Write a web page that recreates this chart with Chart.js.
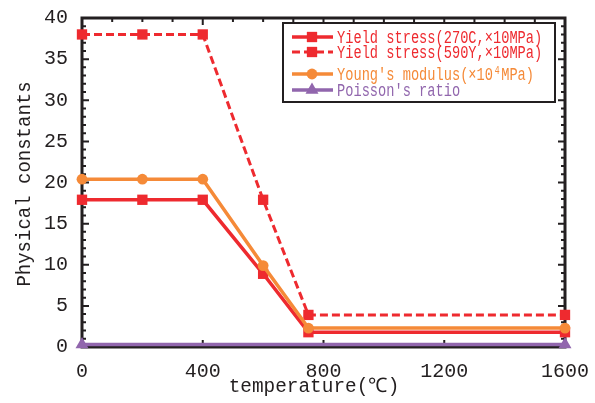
<!DOCTYPE html>
<html><head><meta charset="utf-8">
<script src="https://cdn.jsdelivr.net/npm/chart.js@4/dist/chart.umd.min.js"></script>
<style>html,body{margin:0;padding:0;background:#fff}#wrap{width:595px;height:403px}</style>
</head><body><div id="wrap"><canvas id="c" width="595" height="403"></canvas></div>
<script>
// ---- data ----
const temperatures = [0, 200, 400, 600, 750, 1600];
const yield270C = [17.9, 17.9, 17.9, 8.9, 1.8, 1.8];
const yield590Y = [38.0, 38.0, 38.0, 17.9, 3.9, 3.9];
const youngsModulus = [20.4, 20.4, 20.4, 9.9, 2.3, 2.3];
const poissonTemps = [0, 1600];
const poissonRatio = [0.3, 0.3];
const xTickValues = [0, 400, 800, 1200, 1600];
const yTickValues = [0, 5, 10, 15, 20, 25, 30, 35, 40];
const seriesLabels = ["Yield stress(270C,×10MPa)", "Yield stress(590Y,×10MPa)", "Young's modulus(×10⁴MPa)", "Poisson's ratio"];
const xTitle = "temperature(℃)";
const yTitle = "Physical constants";

const RED = '#ee2a2f', ORANGE = '#f58a38', PURPLE = '#9166ad', AXIS = '#231f20';
const pts = (xs, ys) => xs.map((x, i) => ({x, y: ys[i]}));

function drawMarker(ctx, style, r, x, y, color) {
  ctx.save(); ctx.fillStyle = color; ctx.beginPath();
  if (style === 'rect') { const s = Math.SQRT1_2 * r; ctx.rect(x - s, y - s, 2 * s, 2 * s); }
  else if (style === 'circle') { ctx.arc(x, y, r, 0, Math.PI * 2); }
  else if (style === 'triangle') {
    ctx.moveTo(x, y - r); ctx.lineTo(x + r * Math.sin(Math.PI / 3), y + r / 2); ctx.lineTo(x - r * Math.sin(Math.PI / 3), y + r / 2); ctx.closePath();
  }
  ctx.fill(); ctx.restore();
}
function drawText(ctx, text, x, y, font, sx, align, color) {
  ctx.save(); ctx.translate(x, y); ctx.scale(sx, 1); ctx.font = font; ctx.textAlign = align; ctx.textBaseline = 'middle'; ctx.fillStyle = color; ctx.fillText(text, 0, 0); ctx.restore();
}

const framePlugin = {
  id: 'frame',
  beforeDatasetsDraw(chart) {
    const {ctx, chartArea: a, scales: {x, y}} = chart;
    ctx.save();
    ctx.strokeStyle = AXIS; ctx.lineWidth = 2;
    ctx.beginPath();
    for (let v = 100; v < 1600; v += 100) {
      const px = x.getPixelForValue(v); const L = v % 400 === 0 ? 7 : 4;
      ctx.moveTo(px, a.bottom); ctx.lineTo(px, a.bottom - L);
      ctx.moveTo(px, a.top); ctx.lineTo(px, a.top + L);
    }
    for (let v = 1; v < 40; v += 1) {
      const py = y.getPixelForValue(v); const L = v % 5 === 0 ? 7 : 4;
      ctx.moveTo(a.left, py); ctx.lineTo(a.left + L, py);
      ctx.moveTo(a.right, py); ctx.lineTo(a.right - L, py);
    }
    ctx.stroke();
    ctx.lineWidth = 3; ctx.strokeRect(a.left, a.top, a.right - a.left, a.bottom - a.top);
    ctx.restore();
  },
  afterDraw(chart) {
    const {ctx} = chart;
    // axis titles
    drawText(ctx, chart.options.scales.x.title.text, 314, 387, '20px "Liberation Mono"', 0.97, 'center', AXIS);
    ctx.save(); ctx.translate(25, 184); ctx.rotate(-Math.PI / 2);
    drawText(ctx, chart.options.scales.y.title.text, 0, 0, '20px "Liberation Mono"', 0.95, 'center', AXIS);
    ctx.restore();
    // legend
    const bx = 283, by = 23, bw = 272, bh = 79;
    ctx.save(); ctx.fillStyle = '#fff'; ctx.fillRect(bx, by, bw, bh);
    ctx.strokeStyle = AXIS; ctx.lineWidth = 2; ctx.strokeRect(bx, by, bw, bh); ctx.restore();
    const rows = [37, 52, 74, 90];
    chart.data.datasets.forEach((ds, i) => {
      const yy = rows[i];
      ctx.save(); ctx.strokeStyle = ds.borderColor; ctx.lineWidth = ds.borderWidth;
      ctx.setLineDash(ds.borderDash || []);
      ctx.beginPath(); ctx.moveTo(292, yy); ctx.lineTo(333, yy); ctx.stroke(); ctx.restore();
      drawMarker(ctx, ds.pointStyle, ds.pointRadius, 312, yy, ds.pointBackgroundColor);
      drawText(ctx, ds.label, 337, yy + 1, '19px "Liberation Mono"', 0.72, 'left', ds.borderColor);
    });
  }
};

const chart = new Chart(document.getElementById('c'), {
  type: 'line',
  data: {
    datasets: [
      {label: seriesLabels[0], data: pts(temperatures, yield270C), borderColor: RED, pointBackgroundColor: RED, borderWidth: 3.5, pointStyle: 'rect', pointRadius: 7.3, pointBorderWidth: 0, order: 2},
      {label: seriesLabels[1], data: pts(temperatures, yield590Y), borderColor: RED, pointBackgroundColor: RED, borderWidth: 3, borderDash: [8, 4], pointStyle: 'rect', pointRadius: 7.3, pointBorderWidth: 0, order: 3},
      {label: seriesLabels[2], data: pts(temperatures, youngsModulus), borderColor: ORANGE, pointBackgroundColor: ORANGE, borderWidth: 3.5, pointStyle: 'circle', pointRadius: 5.4, pointBorderWidth: 0, order: 1},
      {label: seriesLabels[3], data: pts(poissonTemps, poissonRatio), borderColor: PURPLE, pointBackgroundColor: PURPLE, borderWidth: 3.5, pointStyle: 'triangle', pointRadius: 7.5, pointBorderWidth: 0, order: 0}
    ]
  },
  options: {
    responsive: false, animation: false, devicePixelRatio: 1,
    layout: {padding: {left: 0, right: 30, top: 18, bottom: 0}},
    elements: {line: {tension: 0, fill: false}, point: {hoverRadius: 0}},
    datasets: {line: {clip: false}},
    plugins: {legend: {display: false}, tooltip: {enabled: false}},
    scales: {
      x: {
        type: 'linear', min: 0, max: 1600,
        title: {display: false, text: xTitle},
        grid: {display: false}, border: {display: false},
        afterBuildTicks: s => { s.ticks = xTickValues.map(v => ({value: v})); },
        afterFit: s => { s.height = 56; },
        ticks: {padding: 5, color: AXIS, font: {family: 'Liberation Mono', size: 20}, maxRotation: 0, autoSkip: false, callback: v => String(v)}
      },
      y: {
        type: 'linear', min: 0, max: 40,
        title: {display: false, text: yTitle},
        grid: {display: false}, border: {display: false},
        afterBuildTicks: s => { s.ticks = yTickValues.map(v => ({value: v})); },
        afterFit: s => { s.width = 82; },
        ticks: {padding: 6, color: AXIS, font: {family: 'Liberation Mono', size: 20}, autoSkip: false, callback: v => String(v)}
      }
    }
  },
  plugins: [framePlugin]
});
</script></body></html>
